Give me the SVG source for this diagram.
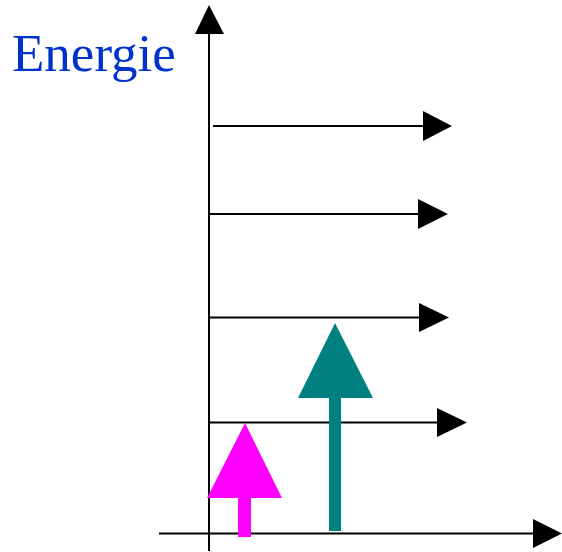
<svg xmlns="http://www.w3.org/2000/svg" width="562" height="552" viewBox="0 0 562 552">
<style>
.ax{stroke:#000;stroke-width:2;fill:none}
.hd{fill:#000}
.lbl{font-family:"Liberation Serif","Times New Roman",serif;font-size:53px;fill:#0033CC}
</style>
<rect width="562" height="552" fill="#fff"/>
<g id="label-energie"><text class="lbl" x="12" y="71">Energie</text></g>
<g id="connectors">
<line class="ax" x1="209" y1="30" x2="209" y2="551"/>
<polygon class="hd" points="209,5 195,34 224,34"/>
<line class="ax" x1="159" y1="533.5" x2="536" y2="533.5"/>
<polygon class="hd" points="533,519 562,533.5 533,548"/>
<line class="ax" x1="213" y1="126" x2="425" y2="126"/>
<polygon class="hd" points="423,111 452,126 423,141"/>
<line class="ax" x1="209" y1="214" x2="420" y2="214"/>
<polygon class="hd" points="418,199 448,214 418,229"/>
<line class="ax" x1="209" y1="317.5" x2="421" y2="317.5"/>
<polygon class="hd" points="419,303 449,317.5 419,332"/>
<line class="ax" x1="209" y1="422.5" x2="439" y2="422.5"/>
<polygon class="hd" points="437,408 467,422.5 437,437"/>
</g>
<g id="arrow-magenta">
<rect x="238" y="496" width="13" height="41" fill="#FF00FF"/>
<polygon points="245,423 207,498 282,498" fill="#FF00FF"/>
</g>
<g id="arrow-teal">
<rect x="329" y="396" width="12" height="135" fill="#008080"/>
<polygon points="335,323 298,398 373,398" fill="#008080"/>
</g>
</svg>
